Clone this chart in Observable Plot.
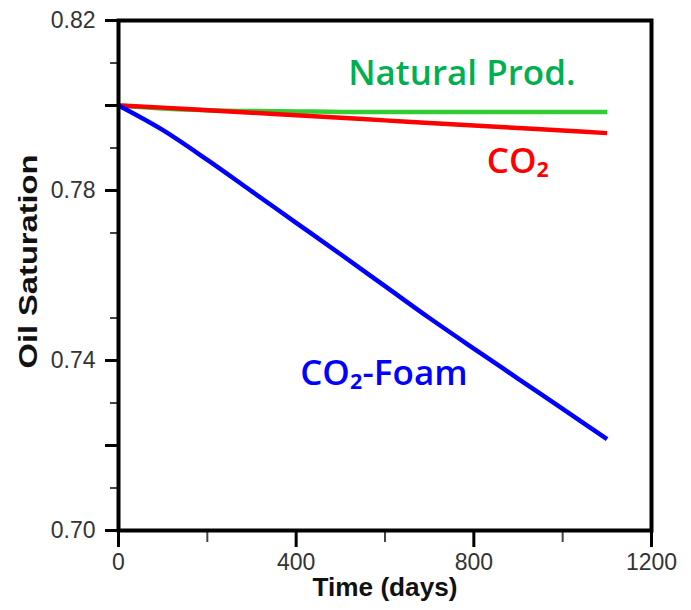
<!DOCTYPE html>
<html>
<head>
<meta charset="utf-8">
<script src="https://cdn.jsdelivr.net/npm/d3@7"></script>
<script src="https://cdn.jsdelivr.net/npm/@observablehq/plot@0.6"></script>
<style>
  html, body { margin: 0; padding: 0; background: #fff; }
  #chart svg { display: block; }
</style>
</head>
<body>
<div id="chart"></div>
<script>
// ---- data ----
const days = [0, 100, 200, 300, 400, 500, 600, 700, 800, 900, 1000, 1100];
const naturalProd = [0.8000, 0.7993, 0.7989, 0.7987, 0.7986, 0.7985, 0.7985, 0.7985, 0.7985, 0.7985, 0.7985, 0.7985];
const co2 = [0.8000, 0.7995, 0.7989, 0.7983, 0.7977, 0.7971, 0.7965, 0.7959, 0.7953, 0.7947, 0.7941, 0.7935];
const co2Foam = [0.8000, 0.7942, 0.7872, 0.7798, 0.7724, 0.7650, 0.7575, 0.7500, 0.7428, 0.7357, 0.7286, 0.7215];

const seriesNames = ["Natural Prod.", "CO2", "CO2-Foam"];
const seriesColors = ["#33cc33", "#ff0000", "#0000ff"];

// annotation labels (data units, left edge / baseline)
const labelTexts = ["Natural Prod.", "CO₂", "CO₂-Foam"];
const labelColors = ["#00b050", "#ff0000", "#0000ff"];
const labelX = [517, 829, 409];
const labelY = [0.8049, 0.7841, 0.7342];

const xTicksMajor = [0, 400, 800, 1200];
const xTicksMinor = [200, 600, 1000];
const yTicksLabeled = [0.70, 0.74, 0.78, 0.82];
const yTicksMajor = [0.72, 0.80];
const yTicksMinor = [0.71, 0.73, 0.75, 0.77, 0.79, 0.81];

const xTitle = "Time (days)";
const yTitle = "Oil Saturation";

// ---- build table ----
const rows = [];
[naturalProd, co2, co2Foam].forEach((vals, s) => {
  vals.forEach((v, i) => rows.push({series: seriesNames[s], day: days[i], sat: v}));
});
const labels = labelTexts.map((t, i) => ({text: t, x: labelX[i], y: labelY[i], color: labelColors[i]}));

const fontTick = "'Liberation Sans', Arial, sans-serif";

const plot = Plot.plot({
  width: 691,
  height: 610,
  marginLeft: 118,
  marginRight: 40,
  marginTop: 20,
  marginBottom: 80,
  style: {fontFamily: fontTick, background: "#fff", overflow: "visible"},
  x: {domain: [0, 1200]},
  y: {domain: [0.70, 0.82]},
  color: {domain: seriesNames, range: seriesColors},
  marks: [
    Plot.line(rows, {x: "day", y: "sat", z: "series", stroke: "series", strokeWidth: 4.5, strokeLinejoin: "round", strokeLinecap: "butt", curve: "monotone-x"}),
    Plot.axisX({ticks: xTicksMajor, tickSize: 17, tickPadding: 6, tickFormat: d3.format("d"), strokeWidth: 3, fontSize: 23, fill: "#333", label: null}),
    Plot.axisX({ticks: xTicksMinor, tickSize: 12, tickFormat: () => "", strokeWidth: 2, stroke: "#444", label: null}),
    Plot.axisY({ticks: yTicksLabeled, tickSize: 13, tickPadding: 10, tickFormat: d3.format(".2f"), strokeWidth: 3, fontSize: 23, fill: "#333", label: null}),
    Plot.axisY({ticks: yTicksMajor, tickSize: 13, tickFormat: () => "", strokeWidth: 3, label: null}),
    Plot.axisY({ticks: yTicksMinor, tickSize: 8, tickFormat: () => "", strokeWidth: 2, stroke: "#444", label: null}),
    Plot.frame({stroke: "black", strokeWidth: 4}),
    Plot.text(labels, {x: "x", y: "y", text: "text", fill: "color", textAnchor: "start", lineAnchor: "bottom",
      fontSize: 35, fontWeight: 600, fontFamily: "'Open Sans', sans-serif"}),
    Plot.text([xTitle], {frameAnchor: "bottom", textAnchor: "middle", dy: 65, lineAnchor: "bottom", fontSize: 25, fontWeight: "bold", fill: "#111"}),
    Plot.text([yTitle], {frameAnchor: "left", textAnchor: "middle", rotate: -90, dx: -90, dy: -14, lineAnchor: "middle", fontSize: 25, fontWeight: "bold", fill: "#111"})
  ]
});
// stretch axis titles to the reference's lengths
d3.select(plot).selectAll("text").filter(function() { return this.textContent === yTitle; })
  .attr("textLength", 214).attr("lengthAdjust", "spacingAndGlyphs");
d3.select(plot).selectAll("text").filter(function() { return this.textContent === xTitle; })
  .attr("textLength", 145).attr("lengthAdjust", "spacingAndGlyphs");
document.getElementById("chart").appendChild(plot);
</script>
</body>
</html>
